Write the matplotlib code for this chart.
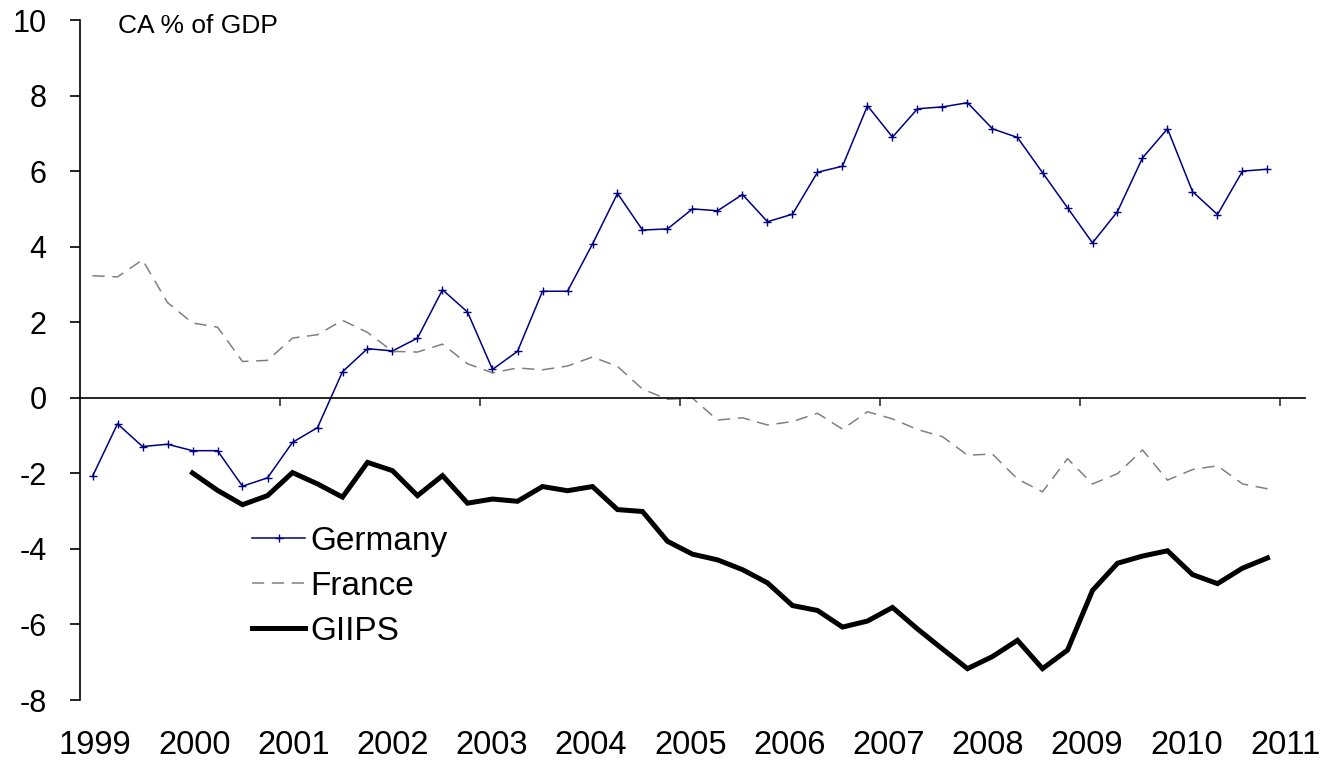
import matplotlib
matplotlib.use("Agg")
import matplotlib.pyplot as plt
import matplotlib.transforms as mtransforms
import numpy as np

plt.rcParams['font.family'] = ['Liberation Sans', 'DejaVu Sans']

# Quarterly data, 1999Q1 .. 2010Q4
germany = [-2.08, -0.69, -1.29, -1.23, -1.40, -1.40, -2.34, -2.12, -1.18, -0.79,
           0.69, 1.30, 1.24, 1.58, 2.86, 2.27, 0.75, 1.23, 2.82, 2.82,
           4.07, 5.41, 4.44, 4.47, 5.00, 4.95, 5.38, 4.66, 4.86, 5.97,
           6.13, 7.73, 6.90, 7.65, 7.70, 7.81, 7.12, 6.89, 5.96, 5.03,
           4.10, 4.93, 6.35, 7.12, 5.46, 4.85, 6.00, 6.05]
france = [3.23, 3.20, 3.65, 2.52, 1.98, 1.87, 0.96, 0.99, 1.58, 1.67,
          2.05, 1.73, 1.23, 1.21, 1.42, 0.90, 0.66, 0.79, 0.74, 0.84,
          1.08, 0.83, 0.23, -0.04, -0.01, -0.59, -0.53, -0.72, -0.63, -0.41,
          -0.83, -0.37, -0.56, -0.84, -1.03, -1.52, -1.49, -2.15, -2.49, -1.61,
          -2.28, -2.01, -1.38, -2.18, -1.90, -1.80, -2.28, -2.41]
giips = [np.nan, np.nan, np.nan, np.nan,
         -1.99, -2.45, -2.83, -2.59, -1.98, -2.28,
         -2.63, -1.71, -1.93, -2.59, -2.06, -2.79, -2.68, -2.74, -2.35, -2.46,
         -2.35, -2.96, -3.01, -3.80, -4.14, -4.29, -4.55, -4.90, -5.50, -5.63,
         -6.07, -5.91, -5.55, -6.12, -6.65, -7.17, -6.85, -6.42, -7.17, -6.68,
         -5.10, -4.38, -4.19, -4.05, -4.68, -4.92, -4.51, -4.24]
years = [str(y) for y in range(1999, 2012)]
yticks = [-8, -6, -4, -2, 0, 2, 4, 6, 8, 10]

W, H = 1333, 760
fig = plt.figure(figsize=(W / 100, H / 100), dpi=100)
ax = fig.add_axes([80 / W, 1 - 700 / H, 1225 / W, 680 / H])

x = np.arange(len(germany))
ax.plot(x, germany, color='#000080', lw=1.1, marker='+', ms=6, mew=1.0, label='Germany')
ax.plot(x, france, color='#808080', lw=1.1, dashes=(8, 5), label='France')
ax.plot(x, giips, color='black', lw=3.6, solid_joinstyle='miter', label='GIIPS')

ax.set_xlim(-0.5, 48.5)
ax.set_ylim(-8, 10)

for s in ['top', 'right']:
    ax.spines[s].set_visible(False)
ax.spines['bottom'].set_position(('data', 0))
ax.spines['left'].set_linewidth(1.2)
ax.spines['bottom'].set_linewidth(1.2)

ax.set_yticks(yticks)
ax.set_yticklabels([str(v) for v in yticks], fontsize=22)
ax.tick_params(axis='y', direction='out', length=7, width=1.2, pad=17)

ax.set_xticks(np.arange(7.5, 48, 8))
ax.set_xticklabels([])
ax.tick_params(axis='x', direction='out', length=6, width=1.2, color='#333333')

# year labels under the chart
trans = mtransforms.blended_transform_factory(ax.transData, fig.transFigure)
for k, yr in enumerate(years):
    ax.text(0.1 + 3.968 * k, 15 / H, yr, transform=trans, ha='center', va='center',
            fontsize=23.5, clip_on=False)

fig.text(118 / W, 1 - 26 / H, 'CA % of GDP', fontsize=19, ha='left', va='center')

leg = ax.legend(loc='upper left', bbox_to_anchor=(252 / W, 1 - 526 / H),
                bbox_transform=fig.transFigure, frameon=False, fontsize=24,
                handlelength=1.6, handletextpad=0.15, labelspacing=0.42,
                borderaxespad=0, borderpad=0)

fig.savefig('out.png', dpi=100)
